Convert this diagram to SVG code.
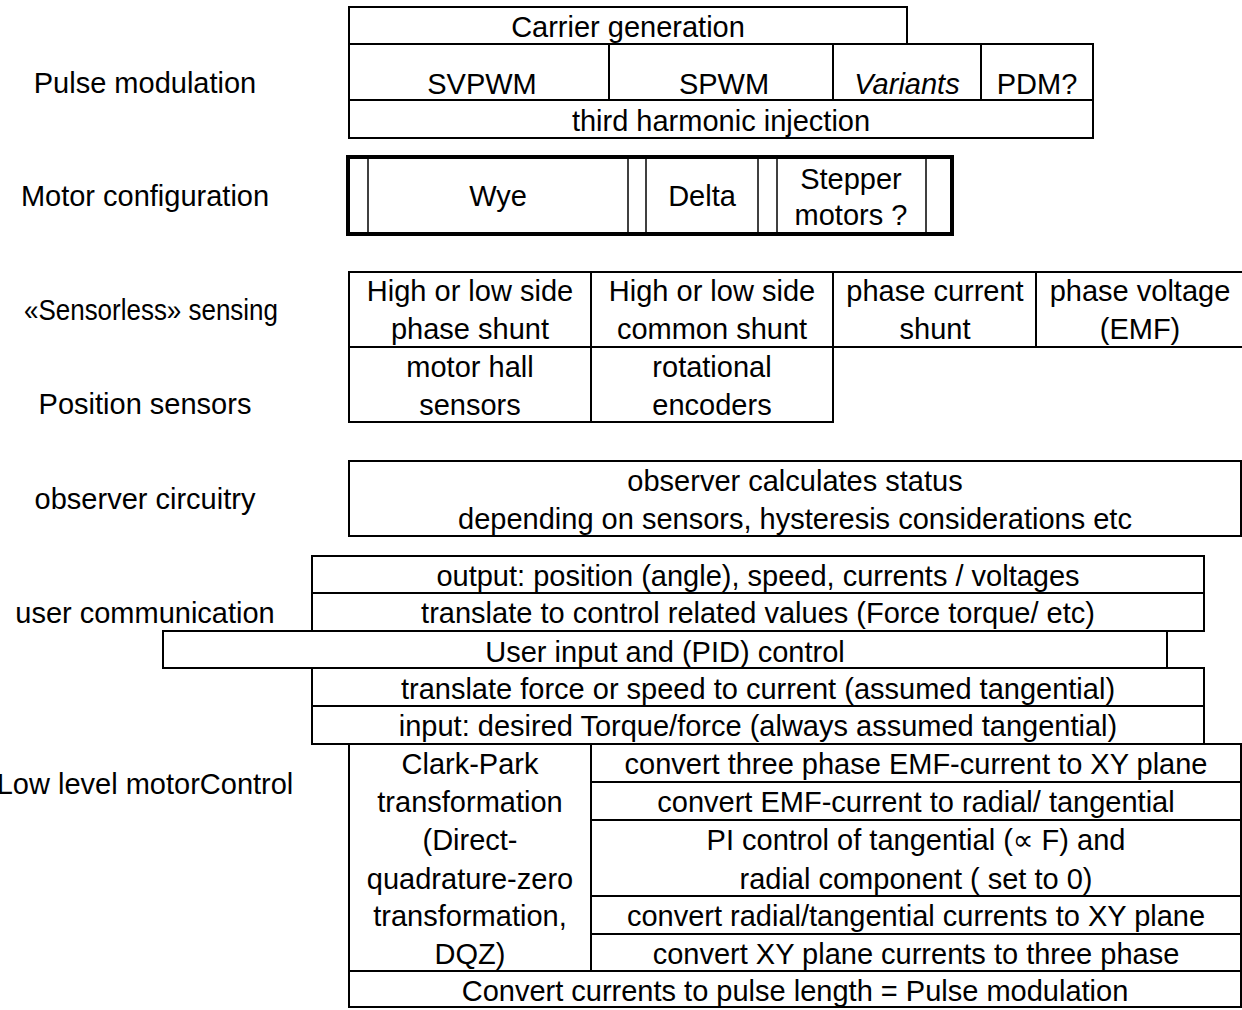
<svg xmlns="http://www.w3.org/2000/svg" width="1242" height="1010" viewBox="0 0 1242 1010">
  <style>
    text { font-family: "Liberation Sans", Arial, "DejaVu Sans", sans-serif; font-size: 29px; fill: #000; text-anchor: middle; }
    .it { font-style: italic; }
    rect.cell { fill: #fff; stroke: #000; stroke-width: 2; }
    rect.thick { fill: #fff; stroke: #000; stroke-width: 4; }
    line.thin { stroke: #000; stroke-width: 1.5; }
  </style>
  <rect x="0" y="0" width="1242" height="1010" fill="#fff"/>

  <!-- layer labels down the left side -->
  <g id="labels">
    <text x="145" y="93">Pulse modulation</text>
    <text x="145" y="206">Motor configuration</text>
    <text x="151" y="320" textLength="254" lengthAdjust="spacingAndGlyphs">«Sensorless» sensing</text>
    <text x="145" y="414">Position sensors</text>
    <text x="145" y="509">observer circuitry</text>
    <text x="145" y="623">user communication</text>
    <text x="145" y="794">Low level motorControl</text>
  </g>

  <!-- pulse modulation -->
  <g id="carrier-generation">
    <rect class="cell" x="349" y="7" width="558" height="37"/>
    <text x="628" y="37">Carrier generation</text>
  </g>
  <g id="svpwm">
    <rect class="cell" x="349" y="44" width="260" height="56"/>
    <text x="482" y="94">SVPWM</text>
  </g>
  <g id="spwm">
    <rect class="cell" x="609" y="44" width="224" height="56"/>
    <text x="724" y="94">SPWM</text>
  </g>
  <g id="variants">
    <rect class="cell" x="833" y="44" width="148" height="56"/>
    <text class="it" x="907" y="94">Variants</text>
  </g>
  <g id="pdm">
    <rect class="cell" x="981" y="44" width="112" height="56"/>
    <text x="1037" y="94">PDM?</text>
  </g>
  <g id="third-harmonic">
    <rect class="cell" x="349" y="100" width="744" height="38"/>
    <text x="721" y="131">third harmonic injection</text>
  </g>

  <!-- motor configuration: heavy frame with double separators -->
  <g id="motor-configuration">
    <rect class="thick" x="348" y="157" width="604" height="77"/>
    <line class="thin" x1="368" y1="157" x2="368" y2="234"/>
    <line class="thin" x1="628" y1="157" x2="628" y2="234"/>
    <line class="thin" x1="646" y1="157" x2="646" y2="234"/>
    <line class="thin" x1="758" y1="157" x2="758" y2="234"/>
    <line class="thin" x1="777" y1="157" x2="777" y2="234"/>
    <line class="thin" x1="926" y1="157" x2="926" y2="234"/>
  </g>
  <g id="wye">
    <text x="498" y="206">Wye</text>
  </g>
  <g id="delta">
    <text x="702" y="206">Delta</text>
  </g>
  <g id="stepper">
    <text x="851" y="189">Stepper</text>
    <text x="851" y="225">motors ?</text>
  </g>

  <!-- sensorless sensing -->
  <g id="phase-shunt">
    <rect class="cell" x="349" y="272" width="242" height="75"/>
    <text x="470" y="301">High or low side</text>
    <text x="470" y="339">phase shunt</text>
  </g>
  <g id="common-shunt">
    <rect class="cell" x="591" y="272" width="242" height="75"/>
    <text x="712" y="301">High or low side</text>
    <text x="712" y="339">common shunt</text>
  </g>
  <g id="phase-current-shunt">
    <rect class="cell" x="833" y="272" width="203" height="75"/>
    <text x="935" y="301">phase current</text>
    <text x="935" y="339">shunt</text>
  </g>
  <g id="phase-voltage">
    <rect class="cell" x="1036" y="272" width="208" height="75"/>
    <text x="1140" y="301">phase voltage</text>
    <text x="1140" y="339">(EMF)</text>
  </g>

  <!-- position sensors -->
  <g id="hall-sensors">
    <rect class="cell" x="349" y="347" width="242" height="75"/>
    <text x="470" y="377">motor hall</text>
    <text x="470" y="415">sensors</text>
  </g>
  <g id="encoders">
    <rect class="cell" x="591" y="347" width="242" height="75"/>
    <text x="712" y="377">rotational</text>
    <text x="712" y="415">encoders</text>
  </g>

  <!-- observer -->
  <g id="observer">
    <rect class="cell" x="349" y="461" width="892" height="75"/>
    <text x="795" y="491">observer calculates status</text>
    <text x="795" y="529">depending on sensors, hysteresis considerations etc</text>
  </g>

  <!-- user communication stack -->
  <g id="output">
    <rect class="cell" x="312" y="556" width="892" height="37"/>
    <text x="758" y="586">output: position (angle), speed, currents / voltages</text>
  </g>
  <g id="translate-control">
    <rect class="cell" x="312" y="593" width="892" height="38"/>
    <text x="758" y="623">translate to control related values (Force torque/ etc)</text>
  </g>
  <g id="user-input">
    <rect class="cell" x="163" y="631" width="1004" height="37"/>
    <text x="665" y="662">User input and (PID) control</text>
  </g>
  <g id="translate-current">
    <rect class="cell" x="312" y="668" width="892" height="38"/>
    <text x="758" y="699">translate force or speed to current (assumed tangential)</text>
  </g>
  <g id="input-torque">
    <rect class="cell" x="312" y="706" width="892" height="38"/>
    <text x="758" y="736">input: desired Torque/force (always assumed tangential)</text>
  </g>

  <!-- low level motor control -->
  <g id="clark-park">
    <rect class="cell" x="349" y="744" width="242" height="227"/>
    <text x="470" y="774">Clark-Park</text>
    <text x="470" y="812">transformation</text>
    <text x="470" y="850">(Direct-</text>
    <text x="470" y="889">quadrature-zero</text>
    <text x="470" y="926">transformation,</text>
    <text x="470" y="964">DQZ)</text>
  </g>
  <g id="to-xy">
    <rect class="cell" x="591" y="744" width="650" height="38"/>
    <text x="916" y="774">convert three phase EMF-current to XY plane</text>
  </g>
  <g id="to-radial">
    <rect class="cell" x="591" y="782" width="650" height="38"/>
    <text x="916" y="812">convert EMF-current to radial/ tangential</text>
  </g>
  <g id="pi-control">
    <rect class="cell" x="591" y="820" width="650" height="76"/>
    <text x="916" y="850">PI control of tangential (∝ F) and</text>
    <text x="916" y="889">radial component ( set to 0)</text>
  </g>
  <g id="radial-to-xy">
    <rect class="cell" x="591" y="896" width="650" height="38"/>
    <text x="916" y="926">convert radial/tangential currents to XY plane</text>
  </g>
  <g id="xy-to-three-phase">
    <rect class="cell" x="591" y="934" width="650" height="37"/>
    <text x="916" y="964">convert XY plane currents to three phase</text>
  </g>
  <g id="pulse-length">
    <rect class="cell" x="349" y="971" width="892" height="36"/>
    <text x="795" y="1001">Convert currents to pulse length = Pulse modulation</text>
  </g>
</svg>
